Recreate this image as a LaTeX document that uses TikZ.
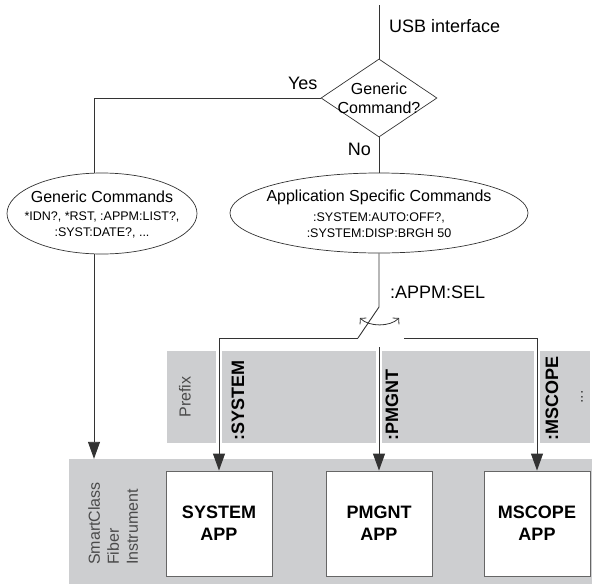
\documentclass[tikz,border=0pt]{standalone}
\usepackage{fontspec}
\setmainfont{Liberation Sans}
\usetikzlibrary{shapes.geometric, arrows, arrows.meta, positioning, calc}

\definecolor{bandgray}{HTML}{CDCED0}
\definecolor{linegray}{HTML}{333333}
\definecolor{labelgray}{HTML}{4A4A4A}

\tikzset{
  flow/.style={draw=linegray, line width=0.9pt},
  flowarrow/.style={flow, -{Triangle[length=17pt,width=12pt]}},
  decision/.style={diamond, draw=linegray, line width=0.7pt, minimum width=116pt, minimum height=78pt, inner sep=0pt},
  cmdset/.style={ellipse, draw=linegray, line width=0.7pt, inner sep=0pt},
  appbox/.style={rectangle, draw=black!60, line width=0.9pt, fill=white, minimum width=106pt, minimum height=105pt, align=center, font=\fontsize{18}{22}\selectfont\bfseries},
  prefixcell/.style={rectangle, fill=bandgray, minimum height=92pt, inner sep=0pt},
  bigtext/.style={font=\fontsize{18}{21}\selectfont, inner sep=0pt},
  midtext/.style={font=\fontsize{16}{19}\selectfont, inner sep=0pt, align=center},
  smalltext/.style={font=\fontsize{12.5}{16}\selectfont, inner sep=0pt, align=center},
  prefixtext/.style={font=\fontsize{18}{21}\selectfont\bfseries, inner sep=0pt, rotate=90, anchor=west},
}

\begin{document}
\begin{tikzpicture}[x=1pt, y=-1pt]
    \useasboundingbox (0,0) rectangle (592,584);

    % grey bands
    \node[prefixcell, minimum width=49pt] (cellprefix) at (191.5,397) {};
    \node[prefixcell, minimum width=154pt] (cellsystem) at (299,397) {};
    \node[prefixcell, minimum width=152pt] (cellpmgnt) at (458,397) {};
    \node[prefixcell, minimum width=50pt] (cellmscope) at (565,397) {};
    \node[rectangle, fill=bandgray, minimum width=523pt, minimum height=125pt, inner sep=0pt] (inst) at (330.5,521.5) {};

    \node[midtext, text=labelgray, rotate=90] (prefixlabel) at (185,397) {Prefix};
    \node[midtext, text=labelgray, rotate=90] (moredots) at (582,397) {...};
    \node[prefixtext] (sysprefix) at (238,441) {:SYSTEM};
    \node[prefixtext] (pmgprefix) at (392,441) {:PMGNT};
    \node[prefixtext] (mscprefix) at (552,441) {:MSCOPE};
    \node[midtext, text=labelgray, align=left, rotate=90, anchor=north west] (instlabel) at (88,565) {SmartClass\\Fiber\\Instrument};

    % decision and command sets
    \coordinate (usbtop) at (379,5);
    \node[decision] (gen) at (379,98) {};
    \node[midtext] (gentext) at (gen) {Generic\\Command?};
    \node[bigtext, anchor=west] (usblabel) at (389,26) {USB interface};
    \node[bigtext, above left=8pt and 3pt of gen.west] (yeslabel) {Yes};
    \node[bigtext, below left=6pt and 8pt of gen.south] (nolabel) {No};

    \node[cmdset, minimum width=190pt, minimum height=81pt] (gcmd) at (102,213.5) {};
    \node[midtext, yshift=16.5pt] (gcmdtitle) at (gcmd) {Generic Commands};
    \node[smalltext, yshift=-11.5pt] (gcmdlist) at (gcmd) {*IDN?, *RST, :APPM:LIST?,\\:SYST:DATE?, ...};

    \node[cmdset, minimum width=298pt, minimum height=80pt] (acmd) at (379,213) {};
    \node[midtext, yshift=16pt] (acmdtitle) at (acmd) {Application Specific Commands};
    \node[smalltext, yshift=-12pt] (acmdlist) at (acmd) {:SYSTEM:AUTO:OFF?,\\:SYSTEM:DISP:BRGH 50};

    % applications
    \node[appbox] (sysapp) at (219,523.5) {SYSTEM\\APP};
    \node[appbox] (pmgapp) at (379,523.5) {PMGNT\\APP};
    \node[appbox] (mscapp) at (537,523.5) {MSCOPE\\APP};

    % connectors
    \coordinate (gin) at (94,173);
    \coordinate (gout) at (94,254);
    \coordinate (swpivot) at (379,307);
    \coordinate (swtip) at (358,338);
    \coordinate (swright) at (404,338);
    \coordinate (pmgstart) at (379,347);

    \draw[flow] (usbtop) -- (gen.north);
    \draw[flow] (gen.west) -| (gin);
    \draw[flowarrow] (gout) -- (gout |- inst.north);
    \draw[flow] (gen.south) -- (acmd.north);
    \draw[flow] (acmd.south) -- (swpivot) -- (swtip);
    \draw[flowarrow] (swtip) -| (sysapp.north);
    \draw[flowarrow] (pmgstart) -- (pmgapp.north);
    \draw[flowarrow] (swright) -| (mscapp.north);
    \draw[draw=linegray, line width=0.8pt, {Straight Barb[length=4pt,width=9pt]}-{Straight Barb[length=4pt,width=9pt]}] (360,318) .. controls (369,327) and (390,327) .. (399,318);
    \node[bigtext, anchor=west] (sellabel) at (390,292) {:APPM:SEL};
\end{tikzpicture}
\end{document}
